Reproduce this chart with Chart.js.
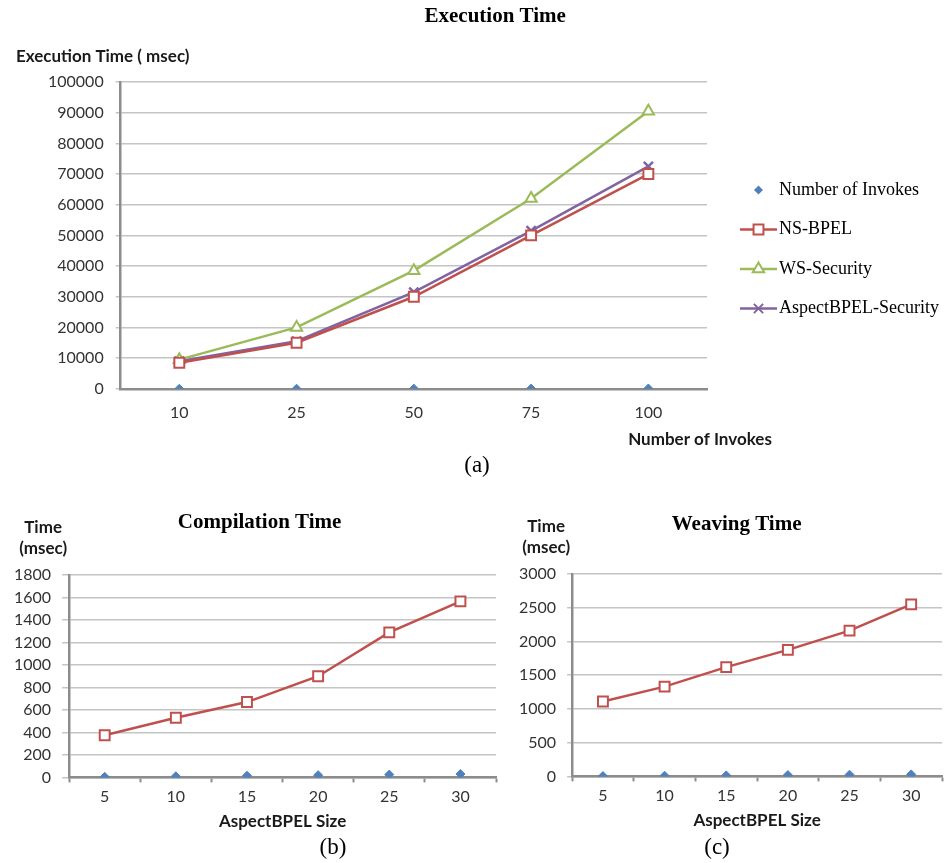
<!DOCTYPE html>
<html>
<head>
<meta charset="utf-8">
<script src="https://cdn.jsdelivr.net/npm/chart.js"></script>
<style>
  body { margin: 0; background: #fff; }
  #page { position: relative; width: 951px; height: 863px; }
  canvas { position: absolute; }
  .cap { position: absolute; font-family: "Liberation Serif", serif; font-size: 23px; color: #000; transform: translate(-50%, -50%); }
</style>
</head>
<body>
<div id="page">
  <canvas id="execChart" width="951" height="455" style="left:0;top:0"></canvas>
  <canvas id="compileChart" width="505" height="335" style="left:0;top:500px"></canvas>
  <canvas id="weaveChart" width="446" height="335" style="left:505px;top:500px"></canvas>
  <div class="cap" style="left:477px;top:465px">(a)</div>
  <div class="cap" style="left:333px;top:847px">(b)</div>
  <div class="cap" style="left:717px;top:847px">(c)</div>
</div>
<script>
// (a) execution time
const invokes = ['10', '25', '50', '75', '100'];
const invokesCount = [10, 25, 50, 75, 100];
const nsBpelExec = [8500, 15000, 30000, 50000, 70000];
const wsSecurityExec = [9500, 20000, 38500, 62000, 90500];
const aspectExec = [9000, 15500, 31500, 51500, 72500];
const execMax = 100000, execStep = 10000;

// (b) compilation time, (c) weaving time
const sizes = ['5', '10', '15', '20', '25', '30'];
const sizeCount = [5, 10, 15, 20, 25, 30];
const compileTime = [375, 530, 670, 900, 1290, 1565];
const compileMax = 1800, compileStep = 200;
const weaveTime = [1110, 1330, 1620, 1875, 2160, 2550];
const weaveMax = 3000, weaveStep = 500;

const BLUE = '#4F81BD', RED = '#C0504D', GREEN = '#9BBB59', PURPLE = '#8064A2';
const GRID = '#c4c4c4', AXIS = '#8c8c8c';
const SANS = 'Lato', SERIF = 'Liberation Serif';
const HEAD_FONT = 'bold 17px ' + SANS;
const TITLE_FONT = 'bold 21px "' + SERIF + '"';
const LEGEND_FONT = '18px "' + SERIF + '"';

// titles and axis headings, placed relative to the plot area
function headText(items) {
  return {
    id: 'headText',
    afterDraw(chart) {
      const { ctx, chartArea } = chart;
      items.forEach(it => {
        ctx.save();
        ctx.font = it.font || HEAD_FONT;
        ctx.fillStyle = it.font ? '#000' : '#1a1a1a';
        ctx.textAlign = 'center';
        ctx.textBaseline = 'middle';
        const x = (it.x === 'right' ? chartArea.right : chartArea.left) + it.dx;
        const y = (it.y === 'bottom' ? chartArea.bottom : chartArea.top) + it.dy;
        ctx.fillText(it.text, x, y);
        ctx.restore();
      });
    }
  };
}

function drawMark(ctx, style, x, y, r, color) {
  ctx.save();
  ctx.strokeStyle = color;
  ctx.fillStyle = style === 'rectRot' ? color : '#fff';
  ctx.lineWidth = 2;
  ctx.beginPath();
  if (style === 'rectRot') {
    ctx.moveTo(x, y - r); ctx.lineTo(x + r, y); ctx.lineTo(x, y + r); ctx.lineTo(x - r, y);
    ctx.closePath(); ctx.fill();
  } else if (style === 'rect') {
    const h = r * Math.SQRT1_2;
    ctx.rect(x - h, y - h, 2 * h, 2 * h); ctx.fill(); ctx.stroke();
  } else if (style === 'triangle') {
    const h = r * 0.87;
    ctx.moveTo(x, y - r); ctx.lineTo(x + h, y + r / 2); ctx.lineTo(x - h, y + r / 2);
    ctx.closePath(); ctx.fill(); ctx.stroke();
  } else if (style === 'crossRot') {
    const h = r * Math.SQRT1_2;
    ctx.moveTo(x - h, y - h); ctx.lineTo(x + h, y + h);
    ctx.moveTo(x + h, y - h); ctx.lineTo(x - h, y + h);
    ctx.stroke();
  }
  ctx.restore();
}

// legend to the right of the plot: line segment + marker + label per dataset
const sideLegend = {
  id: 'sideLegend',
  afterDraw(chart) {
    const { ctx, chartArea } = chart;
    const x0 = chartArea.right + 33;
    chart.data.datasets.forEach((ds, i) => {
      const cy = chartArea.top + 108 + i * 39.5;
      ctx.save();
      if (ds.showLine !== false) {
        ctx.strokeStyle = ds.borderColor;
        ctx.lineWidth = 2.5;
        ctx.beginPath();
        ctx.moveTo(x0, cy);
        ctx.lineTo(x0 + 37, cy);
        ctx.stroke();
      }
      drawMark(ctx, ds.pointStyle, x0 + 18.5, cy, ds.pointRadius, ds.borderColor);
      ctx.font = LEGEND_FONT;
      ctx.fillStyle = '#000';
      ctx.textAlign = 'left';
      ctx.textBaseline = 'middle';
      ctx.fillText(ds.label, x0 + 39, cy);
      ctx.restore();
    });
  }
};

function diamonds(label, data) {
  return {
    label: label, data: data, showLine: false,
    pointStyle: 'rectRot', pointRadius: 4.5, pointHoverRadius: 4.5,
    borderColor: BLUE, backgroundColor: BLUE, pointBorderWidth: 1
  };
}

function series(label, data, color, style, radius) {
  return {
    label: label, data: data, borderColor: color, backgroundColor: '#fff',
    borderWidth: 2.5, tension: 0,
    pointStyle: style, pointRadius: radius, pointHoverRadius: radius,
    pointBorderColor: color, pointBackgroundColor: '#fff',
    pointBorderWidth: style === 'crossRot' ? 2.5 : 2
  };
}

function yScale(max, step, tickLength, padding) {
  return {
    min: 0, max: max,
    ticks: { stepSize: step, padding: padding, autoSkip: false, color: '#333',
             font: { family: SANS, size: 16 }, callback: v => String(v) },
    grid: { color: GRID, lineWidth: 1.5, tickLength: tickLength, tickColor: GRID },
    border: { color: AXIS, width: 2.5 }
  };
}

Chart.defaults.animation = false;

function drawExec() {
  new Chart(document.getElementById('execChart'), {
    type: 'line',
    data: {
      labels: invokes,
      datasets: [
        diamonds('Number of Invokes', invokesCount),
        series('NS-BPEL', nsBpelExec, RED, 'rect', 7),
        series('WS-Security', wsSecurityExec, GREEN, 'triangle', 6.5),
        series('AspectBPEL-Security', aspectExec, PURPLE, 'crossRot', 6.5)
      ]
    },
    options: {
      responsive: false,
      devicePixelRatio: 1,
      layout: { padding: { left: 36, right: 244, top: 82, bottom: 19 } },
      scales: {
        x: {
          offset: true,
          ticks: { padding: 14, color: '#333', font: { family: SANS, size: 16 } },
          grid: { drawOnChartArea: false, drawTicks: false },
          border: { color: AXIS, width: 2.5 }
        },
        y: yScale(execMax, execStep, 5, 12)
      },
      plugins: {
        title: { display: false },
        legend: { display: false },
        tooltip: { enabled: false }
      }
    },
    plugins: [sideLegend, headText([
      { text: 'Execution Time', x: 'left', dx: 374.5, y: 'top', dy: -65, font: TITLE_FONT },
      { text: 'Execution Time ( msec)', x: 'left', dx: -18, y: 'top', dy: -25 },
      { text: 'Number of Invokes', x: 'right', dx: -7, y: 'bottom', dy: 51 }
    ])]
  });
}

function smallChart(id, title, titleDx, titleDy, values, max, step, tickLength, pad) {
  return new Chart(document.getElementById(id), {
    type: 'line',
    data: {
      labels: sizes,
      datasets: [
        diamonds('AspectBPEL Size', sizeCount),
        series('NS-BPEL', values, RED, 'rect', 7)
      ]
    },
    options: {
      responsive: false,
      devicePixelRatio: 1,
      layout: { padding: pad },
      scales: {
        x: {
          offset: true,
          ticks: { padding: 5, color: '#333', font: { family: SANS, size: 16 } },
          grid: { drawOnChartArea: false, offset: true, tickLength: 5, tickColor: AXIS, tickWidth: 2 },
          border: { color: AXIS, width: 2.5 },
          title: { display: true, text: 'AspectBPEL Size', color: '#1a1a1a',
                   font: { family: SANS, size: 17, weight: 'bold' }, padding: { top: 0, bottom: 0 } }
        },
        y: yScale(max, step, tickLength, 11)
      },
      plugins: {
        title: { display: false },
        legend: { display: false },
        tooltip: { enabled: false }
      }
    },
    plugins: [headText([
      { text: title, x: 'left', dx: titleDx, y: 'top', dy: titleDy, font: TITLE_FONT },
      { text: 'Time', x: 'left', dx: -26, y: 'top', dy: -47 },
      { text: '(msec)', x: 'left', dx: -26, y: 'top', dy: -26 }
    ])]
  });
}

function drawAll() {
  drawExec();
  smallChart('compileChart', 'Compilation Time', 190.5, -52, compileTime, compileMax, compileStep, 7,
    { left: 3, right: 5, top: 75, bottom: 3 });
  smallChart('weaveChart', 'Weaving Time', 164.5, -49, weaveTime, weaveMax, weaveStep, 5,
    { left: 3, right: 0, top: 74, bottom: 4 });
}

// make sure the fonts are ready before Chart.js measures the text
Promise.all([
  document.fonts.load('18px "Liberation Serif"'),
  document.fonts.load('bold 21px "Liberation Serif"'),
  document.fonts.load('16px Lato'),
  document.fonts.load('bold 17px Lato')
]).then(drawAll, drawAll);
</script>
</body>
</html>
